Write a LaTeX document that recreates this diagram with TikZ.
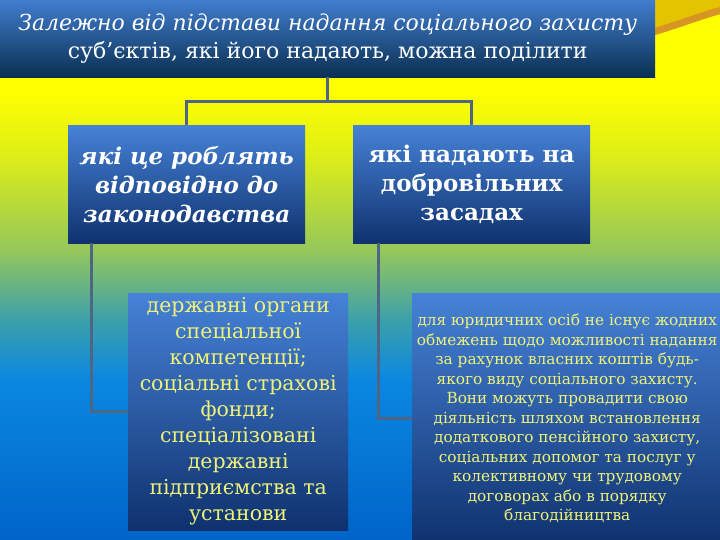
\documentclass[tikz,border=0pt]{standalone}
\usepackage{fontspec}
\setmainfont{DejaVu Serif}
\usetikzlibrary{positioning}
\definecolor{boxtop}{RGB}{70,130,215}
\definecolor{boxbot}{RGB}{15,50,110}
\definecolor{headtop}{RGB}{65,125,205}
\definecolor{headbot}{RGB}{10,48,82}
\definecolor{linkcol}{RGB}{78,102,132}
\definecolor{notetext}{RGB}{238,242,120}
\definecolor{bgyellow}{RGB}{255,255,0}
\definecolor{bglime}{RGB}{225,240,20}
\definecolor{bggreen}{RGB}{150,200,90}
\definecolor{bgteal}{RGB}{60,160,170}
\definecolor{bgblue}{RGB}{10,135,225}
\definecolor{bgdeep}{RGB}{0,100,200}
\definecolor{swgold}{RGB}{228,195,0}
\definecolor{swband}{RGB}{215,150,35}
\pgfdeclareverticalshading{backdrop}{100bp}{color(0bp)=(bgdeep); color(25bp)=(bgdeep);
  color(39.8bp)=(bgblue); color(45.4bp)=(bgteal); color(51.9bp)=(bggreen);
  color(61.1bp)=(bglime); color(66.7bp)=(bgyellow); color(75bp)=(bgyellow); color(100bp)=(bgyellow)}
\begin{document}
\begin{tikzpicture}
[x=1pt,y=-1pt,
every node/.style={rectangle,anchor=north west,align=center,inner sep=1pt},
head/.style={top color=headtop,bottom color=headbot,text=white,
  minimum width=655pt,minimum height=77pt,font=\fontsize{22}{28}\selectfont},
kind/.style={top color=boxtop,bottom color=boxbot,text=white,
  minimum width=237pt,minimum height=118pt,font=\bfseries\fontsize{23}{29}\selectfont},
note/.style={top color=boxtop,bottom color=boxbot,text=notetext},
link/.style={draw=linkcol,line width=3pt}
]
\useasboundingbox (0,0) rectangle (720,540);
\shade[shading=backdrop] (0,0) rectangle (720,540);
% swoosh in the corner
\fill[swgold] (650,0) -- (722,0) -- (722,6) .. controls (700,14) and (680,22) .. (650,30) -- cycle;
\draw[swband,line width=7pt] (650,33) .. controls (680,24) and (700,16) .. (722,10);

\node[head] (head) at (0,0) {{\itshape Залежно від підстави надання соціального захисту}\\суб'єктів, які його надають, можна поділити};
\node[kind] (law) at (68,125) {\itshape які це роблять\\\itshape відповідно до\\\itshape законодавства};
\node[kind] (vol) at (353,125) {які надають на\\добровільних\\засадах};
\node[note,minimum width=220pt,minimum height=237pt,font=\fontsize{20.5}{26}\selectfont] (orgs) at (128,293)
  {державні органи\\спеціальної\\компетенції;\\соціальні страхові\\фонди;\\спеціалізовані\\державні\\підприємства та\\установи};
\node[note,minimum width=310pt,minimum height=250pt,font=\fontsize{15.3}{19.5}\selectfont] (priv) at (412,293)
  {для юридичних осіб не існує жодних\\обмежень щодо можливості надання\\за рахунок власних коштів будь-\\якого виду соціального захисту.\\Вони можуть провадити свою\\діяльність шляхом встановлення\\додаткового пенсійного захисту,\\соціальних допомог та послуг у\\колективному чи трудовому\\договорах або в порядку\\благодійництва};

\draw[link] (head.south) -- ++(0,24) coordinate (fork);
\draw[link] (law.north) |- (fork) -| (vol.north);
\draw[link] ([xshift=23pt]law.south west) |- (orgs.west);
\draw[link] ([xshift=25pt]vol.south west) |- (priv.west);
\end{tikzpicture}
\end{document}
